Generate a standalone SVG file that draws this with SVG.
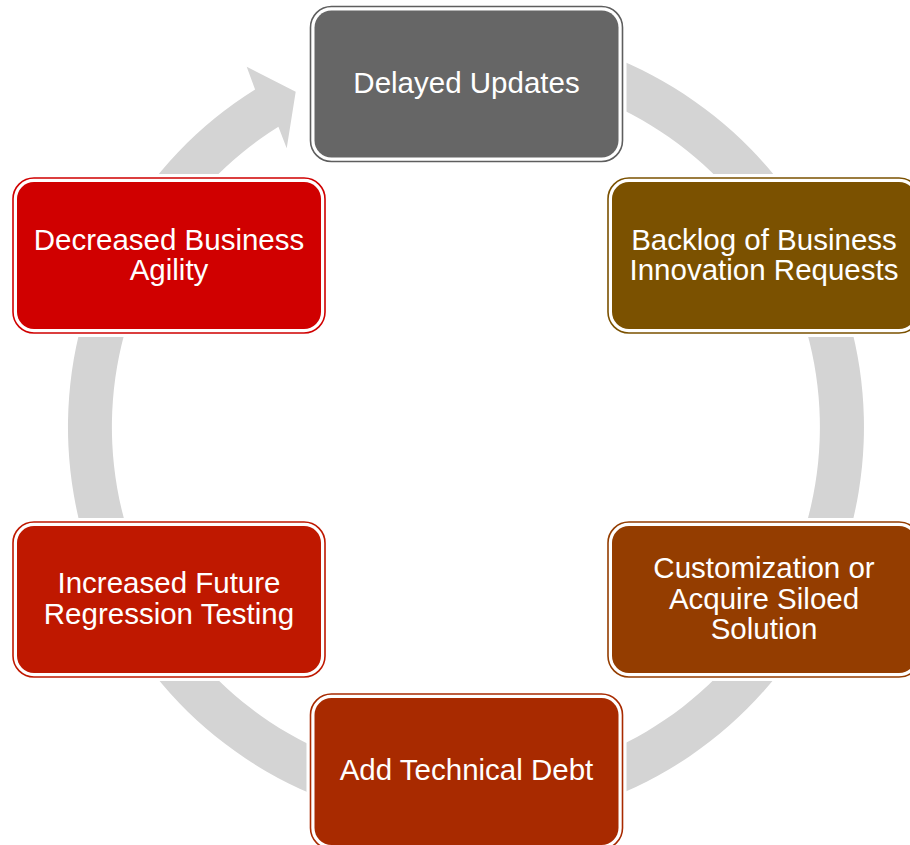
<svg xmlns="http://www.w3.org/2000/svg" width="910" height="845" viewBox="0 0 910 845">
  <style>
    .halo { fill: #ffffff; stroke: #ffffff; stroke-width: 8; }
    .frame { fill: #ffffff; stroke-width: 1.6; }
    .label { font-family: "Liberation Sans", Arial, sans-serif; font-size: 29.5px; fill: #ffffff; text-anchor: middle; }
  </style>
  <rect width="910" height="845" fill="#ffffff"/>

  <!-- circular flow arrow running clockwise behind the steps -->
  <g id="connectors">
    <path fill="#d4d4d4" d="M 363.0 42.6 A 398 398 0 1 1 255.1 89.5 L 246.7 66.7 L 295.7 91.7 L 286.7 148.3 L 278.4 126.8 A 354 354 0 1 0 374.4 85.1 Z"/>
  </g>

  <g id="node-delayed-updates">
    <rect class="halo" x="310.5" y="6.5" width="312" height="155" rx="21"/>
    <rect class="frame" x="310.5" y="6.5" width="312" height="155" rx="21" stroke="#5e5e5e"/>
    <rect x="314.5" y="10.5" width="304" height="147" rx="17" fill="#666666"/>
    <text class="label" x="466.5" y="93">Delayed Updates</text>
  </g>

  <g id="node-backlog">
    <rect class="halo" x="608" y="178" width="312" height="155" rx="21"/>
    <rect class="frame" x="608" y="178" width="312" height="155" rx="21" stroke="#7b5100"/>
    <rect x="612" y="182" width="304" height="147" rx="17" fill="#7b5100"/>
    <text class="label" x="764" y="249.5">Backlog of Business</text>
    <text class="label" x="764" y="280">Innovation Requests</text>
  </g>

  <g id="node-customization">
    <rect class="halo" x="608" y="522" width="312" height="155" rx="21"/>
    <rect class="frame" x="608" y="522" width="312" height="155" rx="21" stroke="#943d00"/>
    <rect x="612" y="526" width="304" height="147" rx="17" fill="#943d00"/>
    <text class="label" x="764" y="578">Customization or</text>
    <text class="label" x="764" y="608.5">Acquire Siloed</text>
    <text class="label" x="764" y="639">Solution</text>
  </g>

  <g id="node-technical-debt">
    <rect class="halo" x="310.5" y="694" width="312" height="155" rx="21"/>
    <rect class="frame" x="310.5" y="694" width="312" height="155" rx="21" stroke="#a82a00"/>
    <rect x="314.5" y="698" width="304" height="147" rx="17" fill="#a82a00"/>
    <text class="label" x="466.5" y="780">Add Technical Debt</text>
  </g>

  <g id="node-regression-testing">
    <rect class="halo" x="13" y="522" width="312" height="155" rx="21"/>
    <rect class="frame" x="13" y="522" width="312" height="155" rx="21" stroke="#bf1800"/>
    <rect x="17" y="526" width="304" height="147" rx="17" fill="#bf1800"/>
    <text class="label" x="169" y="593">Increased Future</text>
    <text class="label" x="169" y="623.5">Regression Testing</text>
  </g>

  <g id="node-business-agility">
    <rect class="halo" x="13" y="178" width="312" height="155" rx="21"/>
    <rect class="frame" x="13" y="178" width="312" height="155" rx="21" stroke="#d00000"/>
    <rect x="17" y="182" width="304" height="147" rx="17" fill="#d00000"/>
    <text class="label" x="169" y="249.5">Decreased Business</text>
    <text class="label" x="169" y="280">Agility</text>
  </g>
</svg>
